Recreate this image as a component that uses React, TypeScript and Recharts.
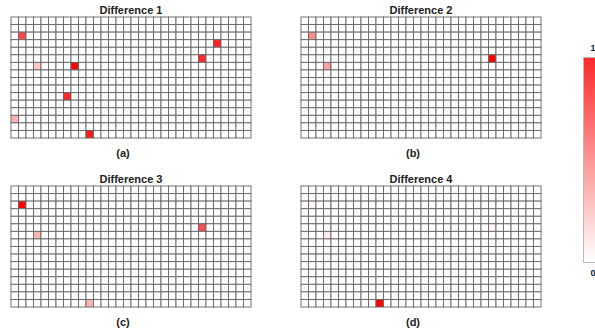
import React from 'react';
import { ScatterChart, Scatter, XAxis, YAxis } from 'recharts';

const COLS = 32;
const ROWS = 16;

const titles = ['Difference 1', 'Difference 2', 'Difference 3', 'Difference 4'];
const captions = ['(a)', '(b)', '(c)', '(d)'];

// non-zero cells only: [column, row, value]
const diff1 = [
  [1, 2, 0.72],
  [27, 3, 0.88],
  [25, 5, 0.85],
  [3, 6, 0.22],
  [8, 6, 1.0],
  [7, 10, 0.85],
  [0, 13, 0.3],
  [10, 15, 0.9],
];
const diff2 = [
  [1, 2, 0.45],
  [25, 5, 1.0],
  [3, 6, 0.38],
  [7, 10, 0.06],
];
const diff3 = [
  [1, 2, 1.0],
  [25, 5, 0.7],
  [3, 6, 0.3],
  [10, 15, 0.3],
];
const diff4 = [
  [1, 2, 0.04],
  [25, 5, 0.03],
  [3, 6, 0.08],
  [7, 10, 0.03],
  [10, 15, 1.0],
];
const diffs = [diff1, diff2, diff3, diff4];

const PLOT_W = 240;
const PLOT_H = 121;
const CELL_W = PLOT_W / COLS;
const CELL_H = PLOT_H / ROWS;

const panelLeft = [10, 300];
const panelTop = [16, 185];

const toColor = (v: number) => {
  const g = Math.round(255 * (1 - v));
  return `rgb(255,${g},${g})`;
};

const buildCells = (list: number[][]) => {
  const out: { x: number; y: number; v: number }[] = [];
  for (let r = 0; r < ROWS; r++) {
    for (let c = 0; c < COLS; c++) {
      const hit = list.find((d) => d[0] === c && d[1] === r);
      out.push({ x: c + 0.5, y: r + 0.5, v: hit ? hit[2] : 0 });
    }
  }
  return out;
};

const Cell = (props: any) => {
  const { cx, cy, payload } = props;
  return (
    <rect
      x={cx - CELL_W / 2}
      y={cy - CELL_H / 2}
      width={CELL_W}
      height={CELL_H}
      fill={toColor(payload.v)}
      stroke="#666"
      strokeWidth={0.9}
    />
  );
};

const textStyle: React.CSSProperties = {
  position: 'absolute',
  fontFamily: '"Liberation Sans", Arial, sans-serif',
  fontWeight: 'bold',
  fontSize: 11,
  lineHeight: '12px',
  color: '#222',
  textAlign: 'center',
  whiteSpace: 'nowrap',
};

function Panel({ idx }: { idx: number }) {
  const left = panelLeft[idx % 2];
  const top = panelTop[Math.floor(idx / 2)];
  return (
    <>
      <div style={{ ...textStyle, left: left + 1, top: top - 12, width: PLOT_W }}>{titles[idx]}</div>
      <div style={{ position: 'absolute', left, top }}>
        <ScatterChart
          width={PLOT_W + 2}
          height={PLOT_H + 2}
          margin={{ top: 1, right: 1, bottom: 1, left: 1 }}
        >
          <XAxis type="number" dataKey="x" domain={[0, COLS]} hide />
          <YAxis type="number" dataKey="y" domain={[0, ROWS]} reversed hide />
          <Scatter data={buildCells(diffs[idx])} shape={<Cell />} isAnimationActive={false} />
        </ScatterChart>
      </div>
      <div style={{ ...textStyle, left: left - 7, top: top + 131, width: PLOT_W }}>{captions[idx]}</div>
    </>
  );
}

export default function App() {
  return (
    <div
      style={{
        position: 'absolute',
        left: 0,
        top: 0,
        width: 595,
        height: 335,
        overflow: 'hidden',
        background: '#fff',
      }}
    >
      {[0, 1, 2, 3].map((i) => (
        <Panel key={i} idx={i} />
      ))}
      <div
        style={{
          position: 'absolute',
          left: 583,
          top: 57,
          width: 30,
          height: 204,
          border: '1px solid #bbb',
          background: 'linear-gradient(to bottom, #ff2a2a, #ffffff)',
        }}
      />
      <div style={{ ...textStyle, fontSize: 9, left: 588, top: 42, width: 10 }}>1</div>
      <div style={{ ...textStyle, fontSize: 9, left: 588, top: 267, width: 10 }}>0</div>
    </div>
  );
}
